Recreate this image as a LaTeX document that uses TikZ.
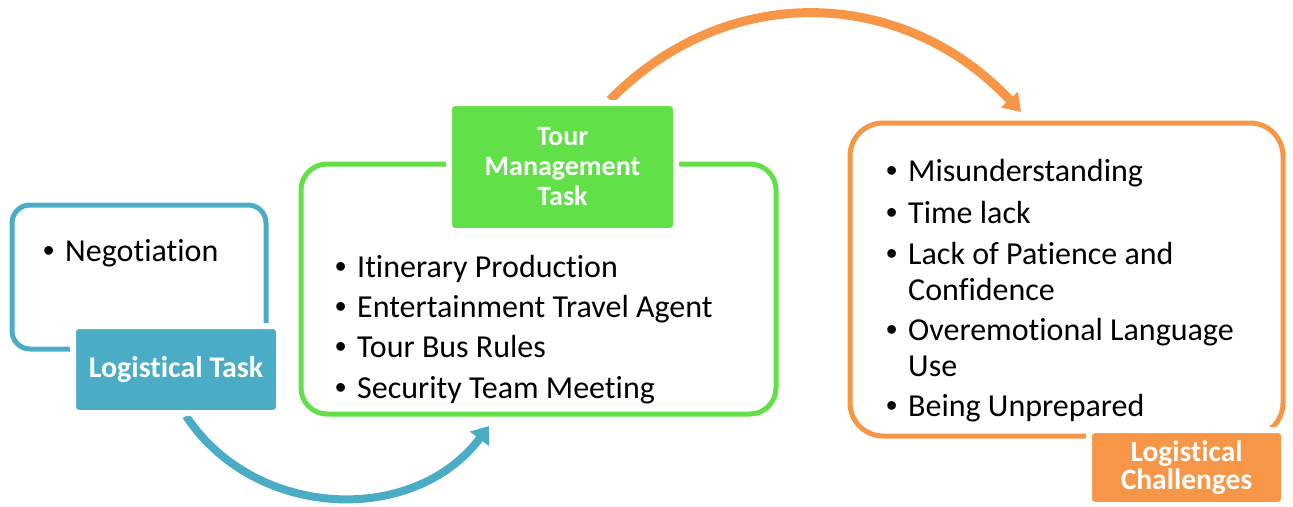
\documentclass[tikz,border=0pt]{standalone}
\usepackage{fontspec}
\setmainfont{Carlito}[Ligatures=NoCommon]
\newfontfamily\bulfont{Liberation Sans}
\usetikzlibrary{arrows.meta,backgrounds}
\definecolor{tblue}{RGB}{75,172,198}
\definecolor{tgreen}{RGB}{98,224,72}
\definecolor{torange}{RGB}{247,150,70}
\newcommand{\bul}{\makebox[22pt][l]{\bulfont\textbullet}}

\begin{document}
\begin{tikzpicture}[x=1pt,y=-1pt,
  frame/.style={draw, line width=5pt, rounded corners=#1},
  tag/.style={draw=white, line width=6pt, rounded corners=6pt, text=white, align=center, font=\fontsize{28}{30}\selectfont\bfseries},
  item/.style={anchor=base west, inner sep=0pt, font=\fontsize{32}{36}\selectfont},
  flow/.style={line width=#1}]
\useasboundingbox (0,0) rectangle (1293,506);

%Shape: Rounded Rect [id:logbox]
\node[frame=18pt, draw=tblue, minimum width=254pt, minimum height=144pt] (logbox) at (139,277) {};
%Shape: Rounded Rect [id:tourbox]
\node[frame=26pt, draw=tgreen, minimum width=475pt, minimum height=250pt] (tourbox) at (538.5,289) {};
%Shape: Rounded Rect [id:chalbox]
\node[frame=33pt, draw=torange, minimum width=433pt, minimum height=313pt] (chalbox) at (1066.5,279.5) {};

% Text Node
\node[item] (log1) at (43,261) {\bul Negotiation};
% Text Node
\foreach \y/\t [count=\i] in {277/Itinerary Production, 317/Entertainment Travel Agent, 357/Tour Bus Rules, 398/Security Team Meeting}
  \node[item] (tour\i) at (335,\y) {\bul \t};
% Text Node
\foreach \y/\t [count=\i] in {181/Misunderstanding, 223/Time lack, 264/Lack of Patience and, 340/Overemotional Language, 416/Being Unprepared}
  \node[item] (chal\i) at (886,\y) {\bul \t};
\node[item] (chal3b) at (908,300) {Confidence};
\node[item] (chal4b) at (908,376) {Use};

% Label Nodes
\node[tag, fill=tblue, minimum width=206pt, minimum height=87pt, font=\fontsize{30}{30}\selectfont\bfseries] (logtag) at (176,369.5) {Logistical Task};
\node[tag, fill=tgreen, minimum width=227pt, minimum height=128pt] (tourtag) at (562.5,167) {Tour\\Management\\Task};
\node[tag, fill=torange, minimum width=195pt, minimum height=75pt, font=\fontsize{29.5}{28}\selectfont\bfseries] (chaltag) at (1186.5,467.5) {Logistical\\Challenges};

% Arrows
\coordinate (tourin) at (489,426);
\coordinate (chalin) at (1021,112);
\begin{scope}[on background layer]
\draw[flow=8pt, tblue, -{Triangle[length=16pt,width=23pt]}] ([xshift=10pt]logtag.south) .. controls +(69,104) and +(-75,100) .. (tourin);
\draw[flow=9pt, torange, -{Triangle[length=17pt,width=22pt]}] ([xshift=47.5pt]tourtag.north) .. controls +(119,-121) and +(-116,-124) .. (chalin);
\end{scope}
\end{tikzpicture}
\end{document}
